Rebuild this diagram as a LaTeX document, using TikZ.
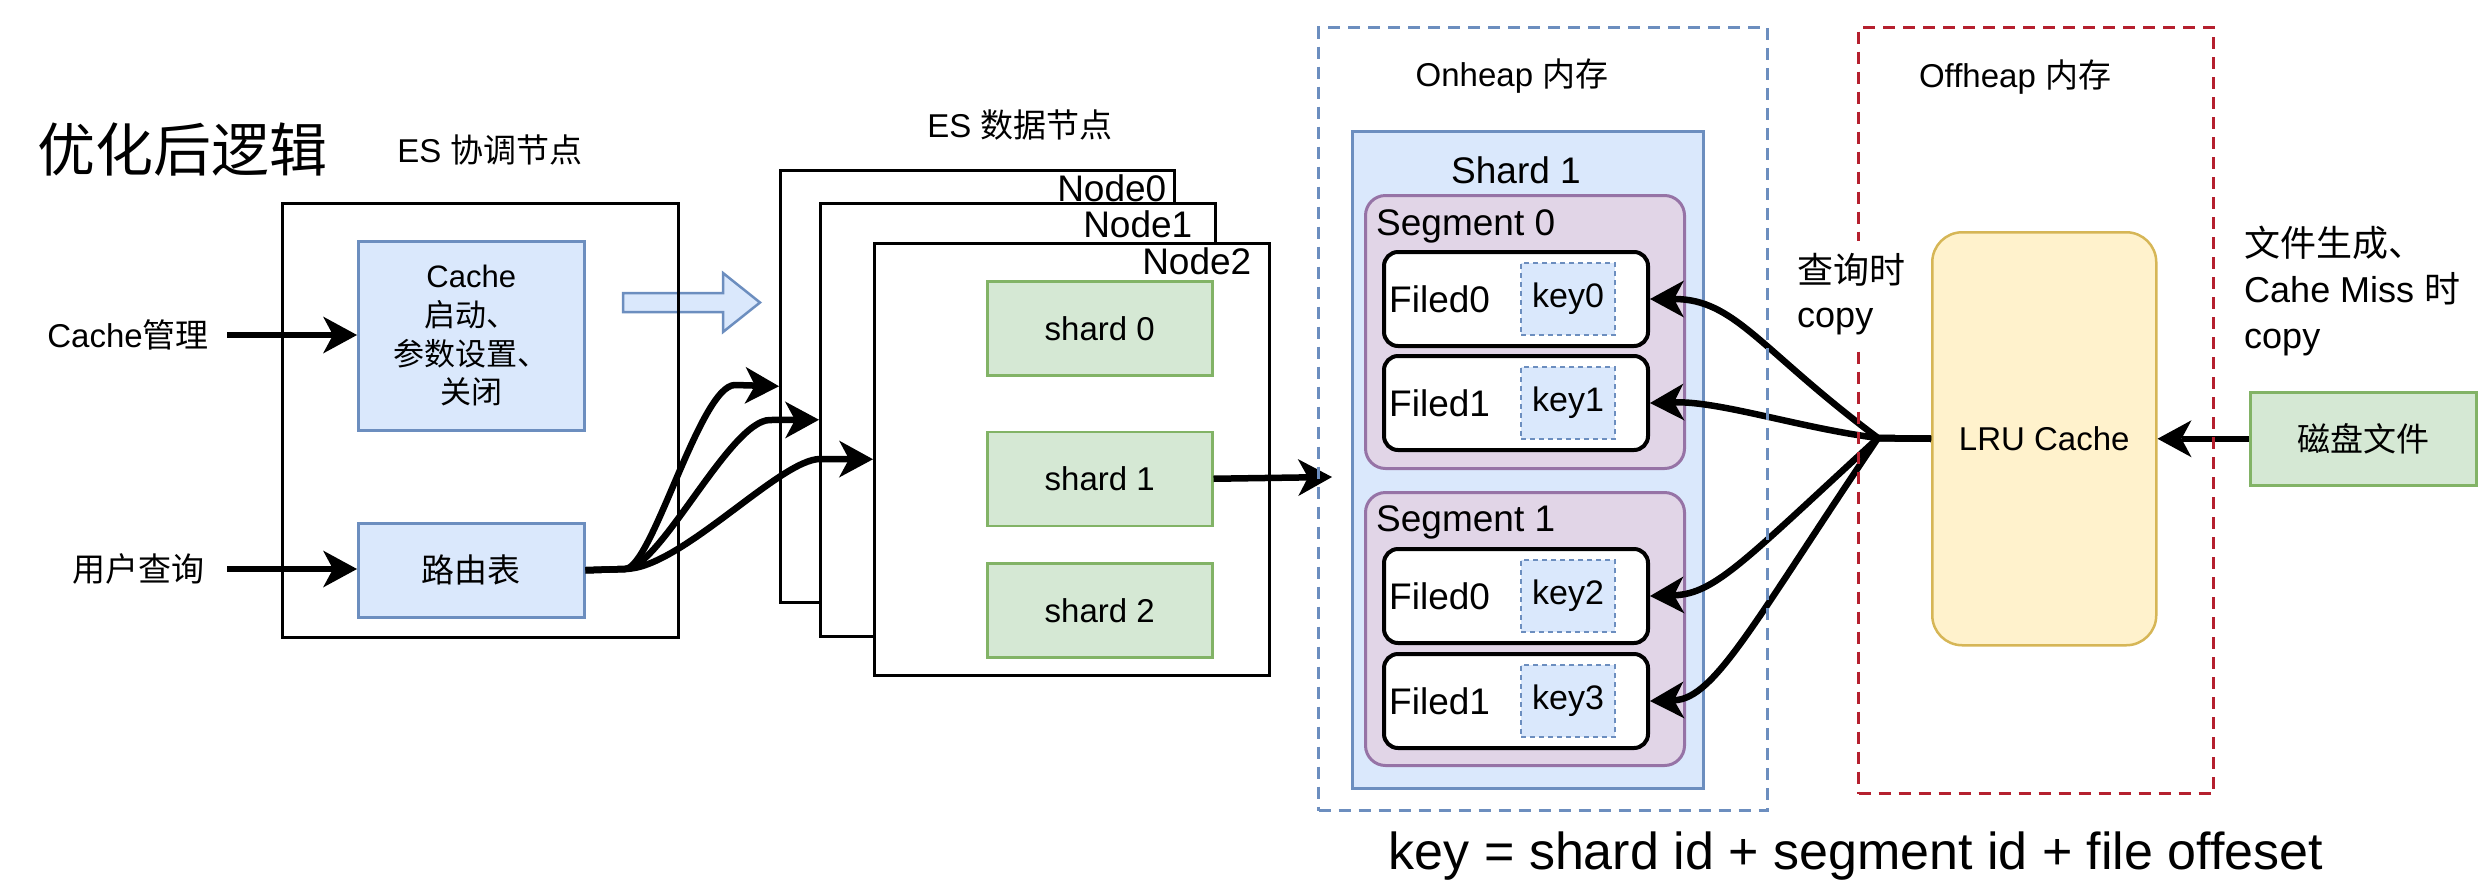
\documentclass[tikz,border=0pt]{standalone}
\usepackage{fontspec}
\setmainfont{Liberation Sans}
\newfontfamily\cjk{Noto Sans CJK SC}
\usepackage{tikz}
\usetikzlibrary{positioning, arrows.meta}

\definecolor{bluefill}{HTML}{DAE8FC}
\definecolor{blueline}{HTML}{6C8EBF}
\definecolor{greenfill}{HTML}{D5E8D4}
\definecolor{greenline}{HTML}{82B366}
\definecolor{purplefill}{HTML}{E1D5E7}
\definecolor{purpleline}{HTML}{9673A6}
\definecolor{yellowfill}{HTML}{FFF2CC}
\definecolor{yellowline}{HTML}{D6B656}
\definecolor{redline}{HTML}{B5202E}

\tikzset{
	txt/.style={inner sep=0pt, font=\fontsize{33}{40}\selectfont},
	bigtxt/.style={inner sep=0pt, font=\fontsize{37}{44}\selectfont},
	box/.style={rectangle, draw, line width=2.5pt, fill=white, inner sep=0pt},
	bluebox/.style={rectangle, draw=blueline, fill=bluefill, line width=2.5pt, inner sep=0pt, align=center, font=\fontsize{33}{40}\selectfont},
	greenbox/.style={rectangle, draw=greenline, fill=greenfill, line width=2.5pt, inner sep=0pt, font=\fontsize{33}{40}\selectfont},
	segbox/.style={rectangle, rounded corners=20pt, draw=purpleline, fill=purplefill, line width=3pt, inner sep=0pt},
	filedbox/.style={rectangle, rounded corners=14pt, draw, fill=white, line width=4pt, inner sep=0pt, minimum width=264pt, minimum height=94pt, anchor=north west},
	keybox/.style={rectangle, draw=blueline, fill=bluefill, line width=2pt, dash pattern=on 5pt off 4pt, inner sep=0pt, minimum width=94pt, minimum height=72pt, font=\fontsize{34}{40}\selectfont},
	lrubox/.style={rectangle, rounded corners=30pt, draw=yellowline, fill=yellowfill, line width=2.5pt, inner sep=0pt, font=\fontsize{33}{40}\selectfont},
	heapbox/.style={rectangle, line width=3pt, dash pattern=on 12pt off 8pt, inner sep=0pt, anchor=north west},
	hollowarrow/.style={draw=blueline, fill=bluefill, line width=2.5pt, line join=miter},
	arr/.style={line width=6.5pt, -{Stealth[length=34pt, width=37pt, inset=10pt, line width=0pt]}}
}

\begin{document}
\begin{tikzpicture}[x=1pt, y=-1pt]
		\useasboundingbox (0,0) rectangle (2489,895);
		
		\node[txt, font=\cjk\fontsize{58}{70}\selectfont] (title) at (182,150) {优化后逻辑};
		\node[txt] (coordlbl) at (490,150) {ES {\cjk 协调节点}};
		
		\draw[hollowarrow] (623,293) -- (723,293) -- (723,273) -- (760,302.5) -- (723,332) -- (723,312) -- (623,312) -- cycle;
		
		\node[box, fill=none, minimum width=396pt, minimum height=434pt, anchor=north west] (coord) at (281,202) {};
		\node[bluebox, font=\fontsize{31}{38.7}\selectfont, minimum width=226pt, minimum height=189pt, anchor=north west] (cachebox) at (357,240) {Cache\\{\cjk 启动、}\\{\cjk 参数设置、}\\{\cjk 关闭}};
		\node[bluebox, minimum width=226pt, minimum height=94pt, anchor=north west] (route) at (357,522) {\cjk 路由表};
		
		\node[txt, anchor=east] (cmgmt) at (209,335) {Cache{\cjk 管理}};
		\node[txt, anchor=east] (uquery) at (205,569) {\cjk 用户查询};
		\draw[arr] ([xshift=18pt]cmgmt.east) -- (cmgmt.east -| cachebox.west);
		\draw[arr] ([xshift=22pt]uquery.east) -- (uquery.east -| route.west);
		
		\node[txt] (datalbl) at (1020,125) {ES {\cjk 数据节点}};
		
		\node[box, minimum width=394pt, minimum height=432pt, anchor=north west] (node0) at (779,169) {};
		\node[bigtxt, anchor=east] (node0lbl) at ([xshift=-9pt, yshift=-19pt]node0.north east) {Node0};
		
		\node[box, minimum width=395pt, minimum height=433pt, anchor=north west] (node1) at (819,202) {};
		\node[bigtxt, anchor=east] (node1lbl) at ([xshift=-24pt, yshift=-22pt]node1.north east) {Node1};
		
		\node[box, minimum width=395pt, minimum height=432pt, anchor=north west] (node2) at (873,242) {};
		\node[bigtxt, anchor=east] (node2lbl) at ([xshift=-19pt, yshift=-19pt]node2.north east) {Node2};
		
		\node[greenbox, minimum width=225pt, minimum height=94pt, anchor=north west] (shard0) at (986,280) {shard 0};
		\node[greenbox, minimum width=225pt, minimum height=94pt, below=54pt of shard0] (shard1) {shard 1};
		\node[greenbox, minimum width=225pt, minimum height=94pt, below=35pt of shard1] (shard2) {shard 2};
		
		\coordinate (split) at (625,569);
		\draw[arr] (route.east) -- (split) .. controls (652,569) and (700,385) .. (735,385) -- (node0.west);
		\draw[arr] (route.east) -- (split) .. controls (660,569) and (730,420) .. (770,420) -- (node1.west);
		\draw[arr] (route.east) -- (split) .. controls (680,569) and (780,459) .. (820,459) -- (node2.west);
		
		\coordinate (shardin) at (1332,477);
		\draw[arr] (shard1.east) -- (shardin);
		
		\node[bluebox, line width=3pt, minimum width=351pt, minimum height=657pt, anchor=north west] (sh1) at (1351,130) {};
		\node[bigtxt] (sh1lbl) at (1516,170) {Shard 1};
		
		\node[segbox, minimum width=319pt, minimum height=273pt, anchor=north west] (seg0) at (1364,194) {};
		\node[bigtxt, anchor=west] (seg0lbl) at (1376,226) {Segment 0};
		\node[filedbox] (f00) at (1382,250) {};
		\node[bigtxt, right=7pt of f00.west] (f00lbl) {Filed0};
		\node[keybox, left=34pt of f00.east] (k0) {key0};
		\node[filedbox] (f01) at (1382,354) {};
		\node[bigtxt, right=7pt of f01.west] (f01lbl) {Filed1};
		\node[keybox, left=34pt of f01.east] (k1) {key1};
		
		\node[segbox, minimum width=319pt, minimum height=273pt, anchor=north west] (seg1) at (1364,491) {};
		\node[bigtxt, anchor=west] (seg1lbl) at (1376,522) {Segment 1};
		\node[filedbox] (f10) at (1382,547) {};
		\node[bigtxt, right=7pt of f10.west] (f10lbl) {Filed0};
		\node[keybox, left=34pt of f10.east] (k2) {key2};
		\node[filedbox] (f11) at (1382,652) {};
		\node[bigtxt, right=7pt of f11.west] (f11lbl) {Filed1};
		\node[keybox, left=34pt of f11.east] (k3) {key3};
		
		\node[lrubox, minimum width=224pt, minimum height=413pt, anchor=north west] (lru) at (1931,231) {LRU Cache};
		\node[greenbox, minimum width=226pt, minimum height=93pt, anchor=north west] (disk) at (2249,391) {\cjk 磁盘文件};
		\draw[arr] (disk) -- (lru);
		
		\coordinate (fan) at (1878,438);
		\draw[arr] (lru.west) -- (fan) .. controls (1760,350) and (1735,299) .. (f00.east);
		\draw[arr] (lru.west) -- (fan) .. controls (1800,428) and (1720,401) .. (f01.east);
		\draw[arr] (lru.west) -- (fan) .. controls (1745,560) and (1715,594) .. (f10.east);
		\draw[arr] (lru.west) -- (fan) .. controls (1755,620) and (1715,699) .. (f11.east);
		
		\node[heapbox, draw=blueline, minimum width=449pt, minimum height=783pt] (onheap) at (1317,26) {};
		\node[txt] (onheaplbl) at (1512,76) {Onheap {\cjk 内存}};
		\node[heapbox, draw=redline, minimum width=355pt, minimum height=766pt] (offheap) at (1857,26) {};
		\node[txt] (offheaplbl) at (2015,77) {Offheap {\cjk 内存}};
		
		\node[txt, font=\fontsize{36}{44}\selectfont, fill=white, align=left, inner xsep=4pt, inner ysep=12pt, anchor=west] (qcopy) at (1793,294) {{\cjk 查询时}\\copy};
		\node[txt, font=\fontsize{36}{46}\selectfont, align=left, anchor=west] (misscopy) at (2244,291) {{\cjk 文件生成、}\\Cahe Miss {\cjk 时}\\copy};
		
		\node[txt, font=\fontsize{52}{62}\selectfont] (keyeq) at (1856,856) {key = shard id + segment id + file offeset};
		
	\end{tikzpicture}
\end{document}
